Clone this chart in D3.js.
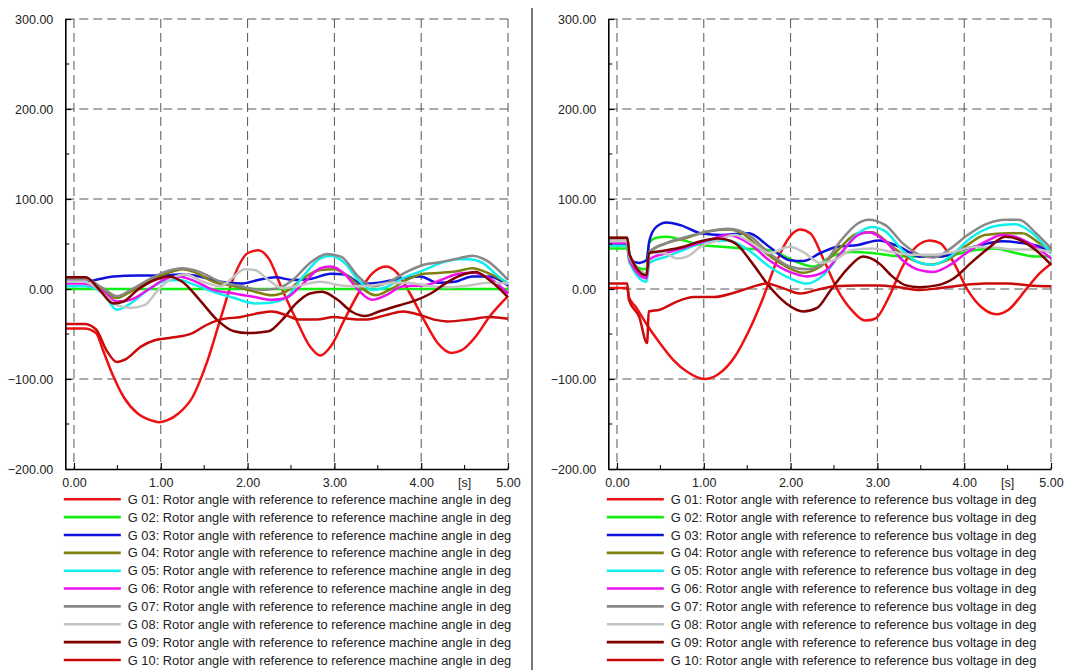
<!DOCTYPE html>
<html><head><meta charset="utf-8">
<script src="https://cdn.jsdelivr.net/npm/d3@7/dist/d3.min.js"></script>
<style>
body{margin:0;background:#fff}
svg{display:block;font-family:"Liberation Sans",Arial,sans-serif}
</style>
</head><body>
<svg id="chart" width="1066" height="670"></svg>
<script>
// ---------- data ----------
const seriesNames = ["G 01","G 02","G 03","G 04","G 05","G 06","G 07","G 08","G 09","G 10"];
const seriesColors = ["#ee1111","#11ee11","#1111dd","#808010","#11eeee","#ee11ee","#888888","#c4c4c4","#800000","#cc0a0a"];
const yTickValues = [300,200,100,0,-100,-200];
const yMinorTicks = [250,150,50,-50,-150];
const xTickValues = [0,1,2,3,4,5];
const xMinorTicks = [0.5,1.5,2.5,3.5,4.5];
const xUnitLabel = "[s]";
const xUnitAt = 4.5;
const leftLegendSuffix = ": Rotor angle with reference to reference machine angle in deg";
const rightLegendSuffix = ": Rotor angle with reference to reference bus voltage in deg";

// left panel: rotor angle vs reference machine angle  [t (s), deg]
const leftG01 = [[-0.1,-44],[0.12,-44],[0.254,-49],[0.334,-68],[0.453,-97],[0.572,-120],[0.731,-138],[0.89,-146],[0.98,-148],[1.07,-146],[1.208,-138],[1.367,-120],[1.526,-83],[1.685,-34],[1.844,14],[2.003,40],[2.122,43],[2.242,34],[2.401,-1],[2.56,-34],[2.719,-64],[2.838,-74],[2.957,-64],[3.116,-34],[3.275,-5],[3.434,17],[3.593,25],[3.712,19],[3.871,-5],[4.03,-34],[4.189,-60],[4.348,-71],[4.467,-68],[4.626,-53],[4.785,-31],[5.0,-8]];
const leftG02 = [[-0.1,0],[1,0],[2,0],[3,0],[4,0],[5,0]];
const leftG03 = [[-0.1,8],[0.12,8],[0.294,11],[0.453,14],[0.731,15],[0.97,15],[1.248,16],[1.447,14],[1.685,8],[1.924,6],[2.122,10],[2.321,13],[2.52,10],[2.719,11],[2.957,17],[3.116,16],[3.315,6],[3.514,7],[3.792,12],[3.99,14],[4.189,7],[4.388,8],[4.587,14],[4.785,14],[5.0,4]];
const leftG04 = [[-0.1,12],[0.135,12],[0.334,-1],[0.493,-10],[0.652,-3],[0.851,8],[1.089,18],[1.248,22],[1.407,18],[1.606,8],[1.844,3],[2.083,-3],[2.281,-7],[2.44,-3],[2.639,12],[2.838,21],[2.997,22],[3.156,14],[3.315,1],[3.474,-7],[3.633,-1],[3.831,10],[4.03,17],[4.229,18],[4.428,20],[4.587,23],[4.785,17],[5.0,6]];
const leftG05 = [[-0.1,3],[0.12,3],[0.334,-5],[0.493,-23],[0.652,-16],[0.851,-1],[1.049,9],[1.208,10],[1.407,4],[1.606,-3],[1.844,-10],[2.083,-16],[2.281,-15],[2.44,-10],[2.639,14],[2.838,34],[2.957,37],[3.116,29],[3.275,10],[3.434,-1],[3.593,2],[3.792,12],[4.03,21],[4.229,29],[4.428,33],[4.547,33],[4.706,29],[4.865,16],[5.0,6]];
const leftG06 = [[-0.1,6],[0.12,6],[0.334,-3],[0.493,-14],[0.652,-12],[0.851,-1],[1.049,11],[1.208,14],[1.407,8],[1.606,-1],[1.844,-5],[2.083,-9],[2.281,-12],[2.44,-10],[2.639,6],[2.838,23],[2.957,25],[3.116,17],[3.275,-1],[3.434,-12],[3.593,-7],[3.792,3],[4.03,4],[4.229,10],[4.428,17],[4.587,18],[4.785,12],[5.0,-5]];
const leftG07 = [[-0.1,11],[0.12,11],[0.334,1],[0.493,-8],[0.652,-1],[0.851,10],[1.049,19],[1.248,23],[1.447,19],[1.685,8],[1.924,3],[2.162,-1],[2.361,1],[2.52,10],[2.719,29],[2.917,39],[3.076,36],[3.275,14],[3.434,3],[3.633,8],[3.831,19],[4.03,27],[4.229,30],[4.428,34],[4.587,37],[4.746,32],[5.0,10]];
const leftG08 = [[-0.1,8],[0.12,8],[0.334,-5],[0.493,-18],[0.652,-21],[0.811,-18],[0.97,-1],[1.129,12],[1.288,16],[1.486,8],[1.685,3],[1.844,14],[1.963,22],[2.083,21],[2.242,10],[2.401,1],[2.599,4],[2.838,8],[3.076,4],[3.315,3],[3.593,6],[3.831,7],[4.11,3],[4.308,2],[4.547,4],[4.785,7],[5.0,6]];
const leftG09 = [[-0.1,13],[0.135,13],[0.294,-1],[0.453,-16],[0.572,-14],[0.731,-1],[0.93,10],[1.089,14],[1.248,8],[1.447,-12],[1.645,-34],[1.844,-47],[2.003,-49],[2.242,-47],[2.401,-34],[2.56,-16],[2.719,-5],[2.858,-3],[3.037,-12],[3.196,-25],[3.355,-30],[3.514,-25],[3.752,-18],[3.951,-12],[4.11,-5],[4.308,8],[4.507,17],[4.626,19],[4.785,10],[5.0,-9]];
const leftG10 = [[-0.1,-39],[0.12,-39],[0.254,-45],[0.374,-68],[0.493,-81],[0.612,-77],[0.771,-64],[0.93,-57],[1.129,-54],[1.367,-49],[1.526,-40],[1.685,-34],[1.924,-31],[2.122,-27],[2.281,-25],[2.44,-29],[2.599,-34],[2.798,-34],[2.997,-31],[3.156,-33],[3.355,-34],[3.593,-29],[3.792,-25],[3.99,-29],[4.149,-34],[4.308,-36],[4.547,-34],[4.785,-31],[5.0,-33]];

// right panel: rotor angle vs reference bus voltage  [t (s), deg]
const rightG01 = [[-0.1,1],[0.118,1],[0.138,-9],[0.217,-20],[0.347,-40],[0.493,-60],[0.65,-79],[0.808,-92],[1.005,-100],[1.162,-95],[1.359,-75],[1.517,-47],[1.675,-12],[1.832,29],[1.99,58],[2.108,66],[2.226,62],[2.384,32],[2.541,-1],[2.699,-23],[2.857,-35],[2.975,-33],[3.132,-9],[3.29,25],[3.448,47],[3.605,54],[3.723,51],[3.881,29],[4.039,-1],[4.196,-20],[4.374,-28],[4.511,-23],[4.708,-1],[4.866,17],[5.0,28]];
const rightG02 = [[-0.1,45],[0.118,45],[0.145,29],[0.34,22],[0.37,51],[0.453,57],[0.571,58],[0.768,54],[0.965,49],[1.202,47],[1.438,45],[1.753,43],[2.069,30],[2.266,25],[2.463,36],[2.699,41],[2.935,40],[3.172,37],[3.408,36],[3.645,36],[3.881,38],[4.117,43],[4.354,45],[4.59,40],[4.827,36],[5.0,36]];
const rightG03 = [[-0.1,50],[0.118,50],[0.145,33],[0.256,29],[0.34,32],[0.374,54],[0.453,69],[0.571,74],[0.729,71],[0.965,62],[1.202,60],[1.517,62],[1.753,47],[1.99,32],[2.147,31],[2.344,40],[2.541,47],[2.778,49],[3.014,54],[3.251,47],[3.487,36],[3.723,36],[3.96,43],[4.196,49],[4.433,53],[4.669,51],[4.866,47],[5.0,40]];
const rightG04 = [[-0.1,57],[0.118,57],[0.145,38],[0.34,17],[0.374,41],[0.571,51],[0.808,57],[1.044,64],[1.281,66],[1.438,62],[1.675,43],[1.911,27],[2.147,18],[2.344,25],[2.541,43],[2.778,62],[2.935,63],[3.172,47],[3.369,34],[3.605,27],[3.802,32],[4.039,49],[4.236,60],[4.511,62],[4.669,62],[4.866,51],[5.0,43]];
const rightG05 = [[-0.1,48],[0.118,48],[0.145,30],[0.34,8],[0.374,29],[0.571,36],[0.808,45],[1.044,53],[1.281,54],[1.517,43],[1.753,25],[1.99,12],[2.187,6],[2.384,16],[2.581,40],[2.778,62],[2.935,69],[3.093,64],[3.29,43],[3.487,29],[3.645,27],[3.842,36],[4.039,54],[4.236,66],[4.433,71],[4.59,72],[4.787,62],[5.0,40]];
const rightG06 = [[-0.1,51],[0.118,51],[0.145,32],[0.34,12],[0.374,33],[0.571,40],[0.808,47],[1.044,54],[1.281,60],[1.517,51],[1.753,32],[1.99,19],[2.187,14],[2.384,19],[2.581,40],[2.778,60],[2.896,63],[3.093,53],[3.29,32],[3.487,21],[3.645,19],[3.842,27],[4.039,41],[4.275,54],[4.433,60],[4.59,58],[4.787,49],[5.0,34]];
const rightG07 = [[-0.1,56],[0.118,56],[0.145,37],[0.34,16],[0.374,41],[0.571,51],[0.808,58],[1.044,64],[1.281,67],[1.517,60],[1.753,40],[1.99,25],[2.187,22],[2.384,29],[2.581,54],[2.778,73],[2.896,77],[3.093,71],[3.29,51],[3.487,38],[3.645,35],[3.842,45],[4.039,60],[4.275,73],[4.472,77],[4.63,77],[4.827,62],[5.0,45]];
const rightG08 = [[-0.1,53],[0.118,53],[0.145,35],[0.34,17],[0.374,40],[0.532,40],[0.69,34],[0.808,36],[0.965,47],[1.162,54],[1.359,60],[1.556,51],[1.753,40],[1.99,47],[2.147,41],[2.344,29],[2.502,32],[2.699,43],[2.935,45],[3.172,41],[3.408,38],[3.645,38],[3.881,41],[4.117,47],[4.354,46],[4.59,44],[4.827,44],[5.0,41]];
const rightG09 = [[-0.1,57],[0.118,57],[0.145,38],[0.34,15],[0.37,40],[0.571,43],[0.768,47],[0.965,53],[1.162,56],[1.359,51],[1.556,29],[1.753,3],[1.95,-16],[2.147,-25],[2.305,-21],[2.463,-1],[2.66,23],[2.837,36],[3.014,29],[3.172,14],[3.329,4],[3.487,2],[3.684,4],[3.881,12],[4.078,29],[4.275,45],[4.472,58],[4.63,55],[4.827,43],[5.0,27]];
const rightG10 = [[-0.1,6],[0.118,6],[0.138,-12],[0.256,-31],[0.347,-60],[0.366,-25],[0.493,-23],[0.69,-14],[0.887,-9],[1.123,-9],[1.32,-5],[1.517,1],[1.714,6],[1.911,1],[2.108,-5],[2.305,-1],[2.502,3],[2.778,4],[3.014,4],[3.251,2],[3.487,-1],[3.723,1],[3.96,4],[4.236,6],[4.511,6],[4.748,4],[5.0,3]];

const leftSeries = [leftG01,leftG02,leftG03,leftG04,leftG05,leftG06,leftG07,leftG08,leftG09,leftG10];
const rightSeries = [rightG01,rightG02,rightG03,rightG04,rightG05,rightG06,rightG07,rightG08,rightG09,rightG10];

// ---------- drawing ----------
const svg = d3.select("#chart");
const yScale = d3.scaleLinear().domain([-200, 300]).range([469, 19]);
const fmt = d3.format(".2f");

const panels = [
  {series: leftSeries, suffix: leftLegendSuffix, range: [65.3, 508]},
  {series: rightSeries, suffix: rightLegendSuffix, range: [608.3, 1051]}
];

// separator
svg.append("line").attr("x1", 532).attr("x2", 532).attr("y1", 8).attr("y2", 670)
  .attr("stroke", "#555").attr("stroke-width", 1.6);

panels.forEach(p => {
  const x = d3.scaleLinear().domain([-0.1, 5]).range(p.range);
  const g = svg.append("g");
  const x0 = p.range[0];

  // grid
  g.append("g").selectAll("line").data(yTickValues.filter(v => v > -200)).join("line")
    .attr("x1", x0).attr("x2", x(5)).attr("y1", d => yScale(d)).attr("y2", d => yScale(d))
    .attr("stroke", "#555").attr("stroke-width", 1).attr("stroke-dasharray", "9,5");
  g.append("g").selectAll("line").data(xTickValues).join("line")
    .attr("x1", d => x(d)).attr("x2", d => x(d)).attr("y1", yScale(300)).attr("y2", yScale(-200))
    .attr("stroke", "#555").attr("stroke-width", 1).attr("stroke-dasharray", "9,5");

  // curves
  const line = d3.line().x(d => x(d[0])).y(d => yScale(d[1])).curve(d3.curveMonotoneX);
  g.append("g").selectAll("path").data(p.series).join("path")
    .attr("d", line).attr("fill", "none")
    .attr("stroke", (d, i) => seriesColors[i]).attr("stroke-width", 2.5)
    .attr("stroke-linejoin", "round");

  // y axis
  const yAxis = d3.axisLeft(yScale).tickValues(yTickValues).tickFormat(fmt)
    .tickSizeInner(-6).tickSizeOuter(0).tickPadding(12);
  const ya = g.append("g").attr("transform", `translate(${x0},0)`).call(yAxis);
  ya.select(".domain").attr("stroke", "#000").attr("stroke-width", 1.6);
  ya.selectAll(".tick line").attr("stroke", "#000").attr("stroke-width", 1.2);
  ya.selectAll("text").attr("font-size", 12.5).attr("fill", "#222")
    .attr("font-family", '"Liberation Sans", Arial, sans-serif');
  g.append("g").selectAll("line").data(yMinorTicks).join("line")
    .attr("x1", x0).attr("x2", x0 + 4).attr("y1", d => yScale(d)).attr("y2", d => yScale(d))
    .attr("stroke", "#000").attr("stroke-width", 1);

  // x axis
  const xAxis = d3.axisBottom(x).tickValues(xTickValues).tickFormat(fmt)
    .tickSizeInner(-6).tickSizeOuter(0).tickPadding(9);
  const xa = g.append("g").attr("transform", `translate(0,${yScale(-200)})`).call(xAxis);
  xa.select(".domain").attr("stroke", "#000").attr("stroke-width", 1.6);
  xa.selectAll(".tick line").attr("stroke", "#000").attr("stroke-width", 1.2);
  xa.selectAll("text").attr("font-size", 12.5).attr("fill", "#222")
    .attr("font-family", '"Liberation Sans", Arial, sans-serif');
  g.append("g").selectAll("line").data(xMinorTicks).join("line")
    .attr("x1", d => x(d)).attr("x2", d => x(d)).attr("y1", yScale(-200)).attr("y2", yScale(-200) - 4)
    .attr("stroke", "#000").attr("stroke-width", 1);
  g.append("text").attr("x", x(xUnitAt)).attr("y", yScale(-200) + 18)
    .attr("text-anchor", "middle").attr("font-size", 12.5).attr("fill", "#222").text(xUnitLabel);

  // legend
  const lg = g.append("g").selectAll("g").data(seriesNames).join("g")
    .attr("transform", (d, i) => `translate(${x0 - 1.5},${499.3 + i * 17.85})`);
  lg.append("line").attr("x1", 0).attr("x2", 57).attr("y1", 0).attr("y2", 0)
    .attr("stroke", (d, i) => seriesColors[i]).attr("stroke-width", 2.6);
  lg.append("text").attr("x", 64).attr("y", 4.6).attr("font-size", 12.85).attr("fill", "#222")
    .text(d => d + p.suffix);
});
</script>
</body></html>
